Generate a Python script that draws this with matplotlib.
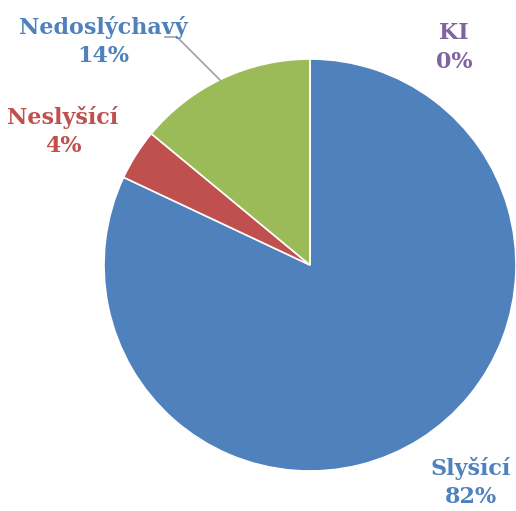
import matplotlib
matplotlib.use("Agg")
from matplotlib import pyplot as plt

# data
labels = ["Slyšící", "Neslyšící", "Nedoslýchavý", "KI"]
values = [82, 4, 14, 0]
colors = ["#4F81BD", "#C0504D", "#9BBB59", "#8064A2"]
label_colors = ["#4F81BD", "#C0504D", "#4F81BD", "#8064A2"]

W, H = 516, 511
fig = plt.figure(figsize=(W / 100, H / 100), dpi=100)
ax = fig.add_axes([0, 0, 1, 1])

cx, cy, r = 310, H - 265, 206
ax.pie(values, colors=colors, startangle=90, counterclock=False,
       center=(cx, cy), radius=r, frame=True,
       wedgeprops=dict(edgecolor="white", linewidth=1.2))
ax.set_xlim(0, W)
ax.set_ylim(0, H)
ax.set_aspect("equal")
ax.axis("off")

# label positions in pixel coords (x, y from top)
label_pos = [(471, 468), (63, 117), (103, 27), (454, 33)]
for lab, v, c, (x, y) in zip(labels, values, label_colors, label_pos):
    ax.text(x, H - y, lab, color=c, ha="center", va="center",
            fontsize=16, fontweight="bold", family="DejaVu Serif")
    ax.text(x, H - y - 29, f"{v}%", color=c, ha="center", va="center",
            fontsize=16, fontweight="bold", family="DejaVu Serif")

# leader line for Nedoslýchavý
ax.plot([165, 177, 221], [H - 37, H - 37, H - 81], color="#A0A0A0", lw=1.2)

fig.savefig("out.png", dpi=100)
